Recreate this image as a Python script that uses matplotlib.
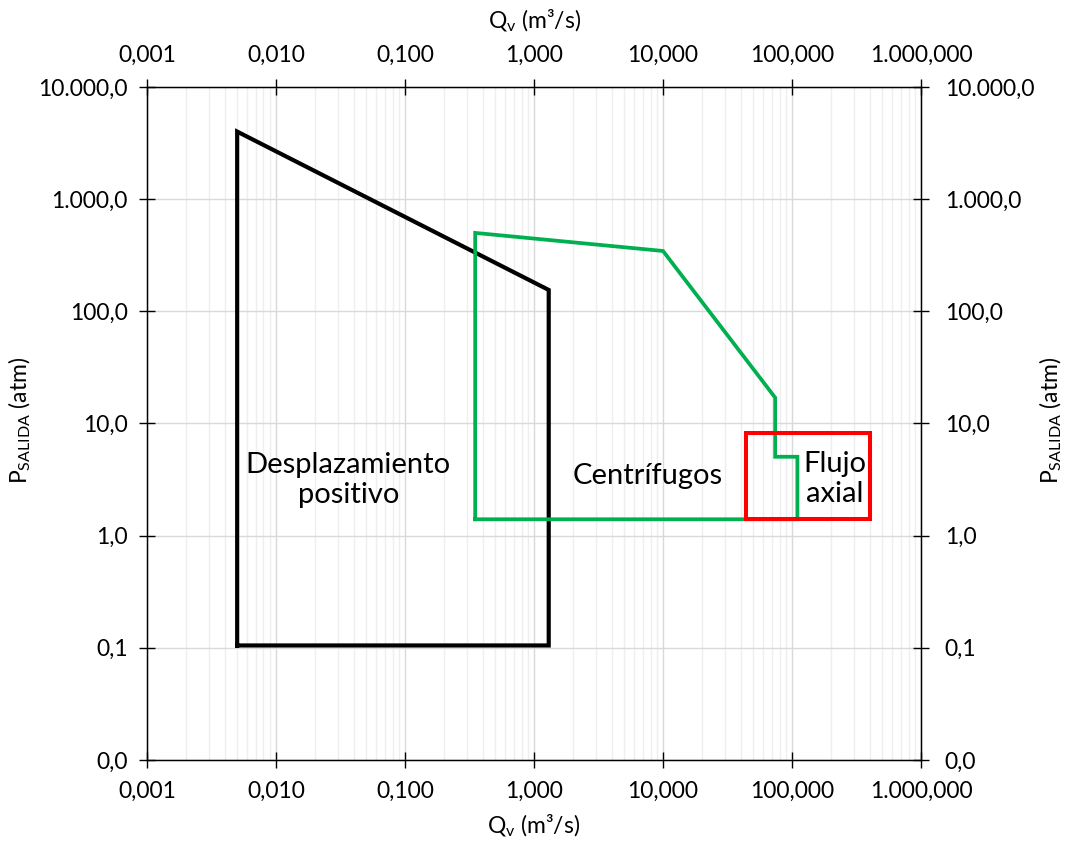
import matplotlib.pyplot as plt
from matplotlib.ticker import FixedLocator, NullFormatter, LogLocator

plt.rcParams['font.family'] = ['Lato', 'DejaVu Sans']
plt.rcParams['mathtext.fontset'] = 'custom'
plt.rcParams['mathtext.rm'] = 'Lato'
plt.rcParams['mathtext.it'] = 'Lato:italic'

# Desplazamiento positivo (black)
desp_q = [0.005, 0.005, 1.3, 1.3, 0.005]
desp_p = [0.105, 4000, 155, 0.105, 0.105]

# Centrifugos (green)
cent_q = [0.35, 0.35, 10, 74, 74, 110, 110, 0.35]
cent_p = [1.4, 500, 345, 17, 5.05, 5.05, 1.4, 1.4]

# Flujo axial (red)
axial_q = [44, 400, 400, 44, 44]
axial_p = [1.4, 1.4, 8.3, 8.3, 1.4]

x_ticks = [0.001, 0.01, 0.1, 1, 10, 100, 1000]
x_labels = ['0,001', '0,010', '0,100', '1,000', '10,000', '100,000', '1.000,000']
y_ticks = [0.01, 0.1, 1, 10, 100, 1000, 10000]
y_labels = ['0,0', '0,1', '1,0', '10,0', '100,0', '1.000,0', '10.000,0']

fig = plt.figure(figsize=(10.69, 8.41), dpi=100)
ax = fig.add_axes([0.1375, 0.0963, 0.7241, 0.8003])
ax.set_xscale('log')
ax.set_yscale('log')
ax.set_xlim(0.001, 1000)
ax.set_ylim(0.01, 10000)

ax.plot(desp_q, desp_p, color='black', lw=3.0, solid_joinstyle='miter')
ax.plot(cent_q, cent_p, color='#00B050', lw=2.7, solid_joinstyle='miter')
ax.plot(axial_q, axial_p, color='#FF0000', lw=2.9, solid_joinstyle='miter')

fs_tick = 16.5
fs_text = 21
ax.text(0.0364, 3.13, 'Desplazamiento\npositivo', ha='center', va='center', fontsize=fs_text, linespacing=1.2)
ax.text(7.6, 3.4, 'Centrífugos', ha='center', va='center', fontsize=fs_text)
ax.text(215, 3.2, 'Flujo\naxial', ha='center', va='center', fontsize=fs_text, linespacing=1.2)

ax.xaxis.set_major_locator(FixedLocator(x_ticks))
ax.yaxis.set_major_locator(FixedLocator(y_ticks))
ax.xaxis.set_minor_locator(LogLocator(base=10, subs=range(2, 10), numticks=20))
ax.xaxis.set_minor_formatter(NullFormatter())
ax.yaxis.set_minor_formatter(NullFormatter())
ax.set_xticklabels(x_labels)
ax.set_yticklabels(y_labels)
ax.grid(True, which='major', color='#d9d9d9', lw=1.0)
ax.xaxis.grid(True, which='minor', color='#eeeeee', lw=1.0)
ax.set_axisbelow(True)

ax.tick_params(which='major', direction='inout', length=12, width=1, labelsize=fs_tick,
               top=True, right=True, labeltop=True, labelright=False)
ax.tick_params(axis='x', which='major', pad=9)
ax.tick_params(axis='y', which='major', pad=8)
ax.tick_params(which='minor', length=0)
for s in ax.spines.values():
    s.set_color('#000000')
    s.set_linewidth(1.0)

# right-hand labels with their own spacing
ax2 = ax.twinx()
ax2.set_yscale('log')
ax2.set_ylim(ax.get_ylim())
ax2.yaxis.set_major_locator(FixedLocator(y_ticks))
ax2.set_yticklabels(y_labels)
ax2.yaxis.set_minor_formatter(NullFormatter())
ax2.tick_params(which='major', direction='inout', length=12, width=1, labelsize=fs_tick, pad=11)
ax2.tick_params(which='minor', length=0)

ax.set_xlabel('Q$_\\mathrm{v}$ (m³/s)', fontsize=fs_tick, labelpad=8)
fig.text(0.5, 0.975, 'Q$_\\mathrm{v}$ (m³/s)', ha='center', va='center', fontsize=fs_tick)
fig.text(0.019, 0.5, 'P$_\\mathrm{SALIDA}$ (atm)', ha='center', va='center', rotation=90, fontsize=fs_tick)
fig.text(0.983, 0.5, 'P$_\\mathrm{SALIDA}$ (atm)', ha='center', va='center', rotation=90, fontsize=fs_tick)

fig.savefig('out.png', dpi=100)
